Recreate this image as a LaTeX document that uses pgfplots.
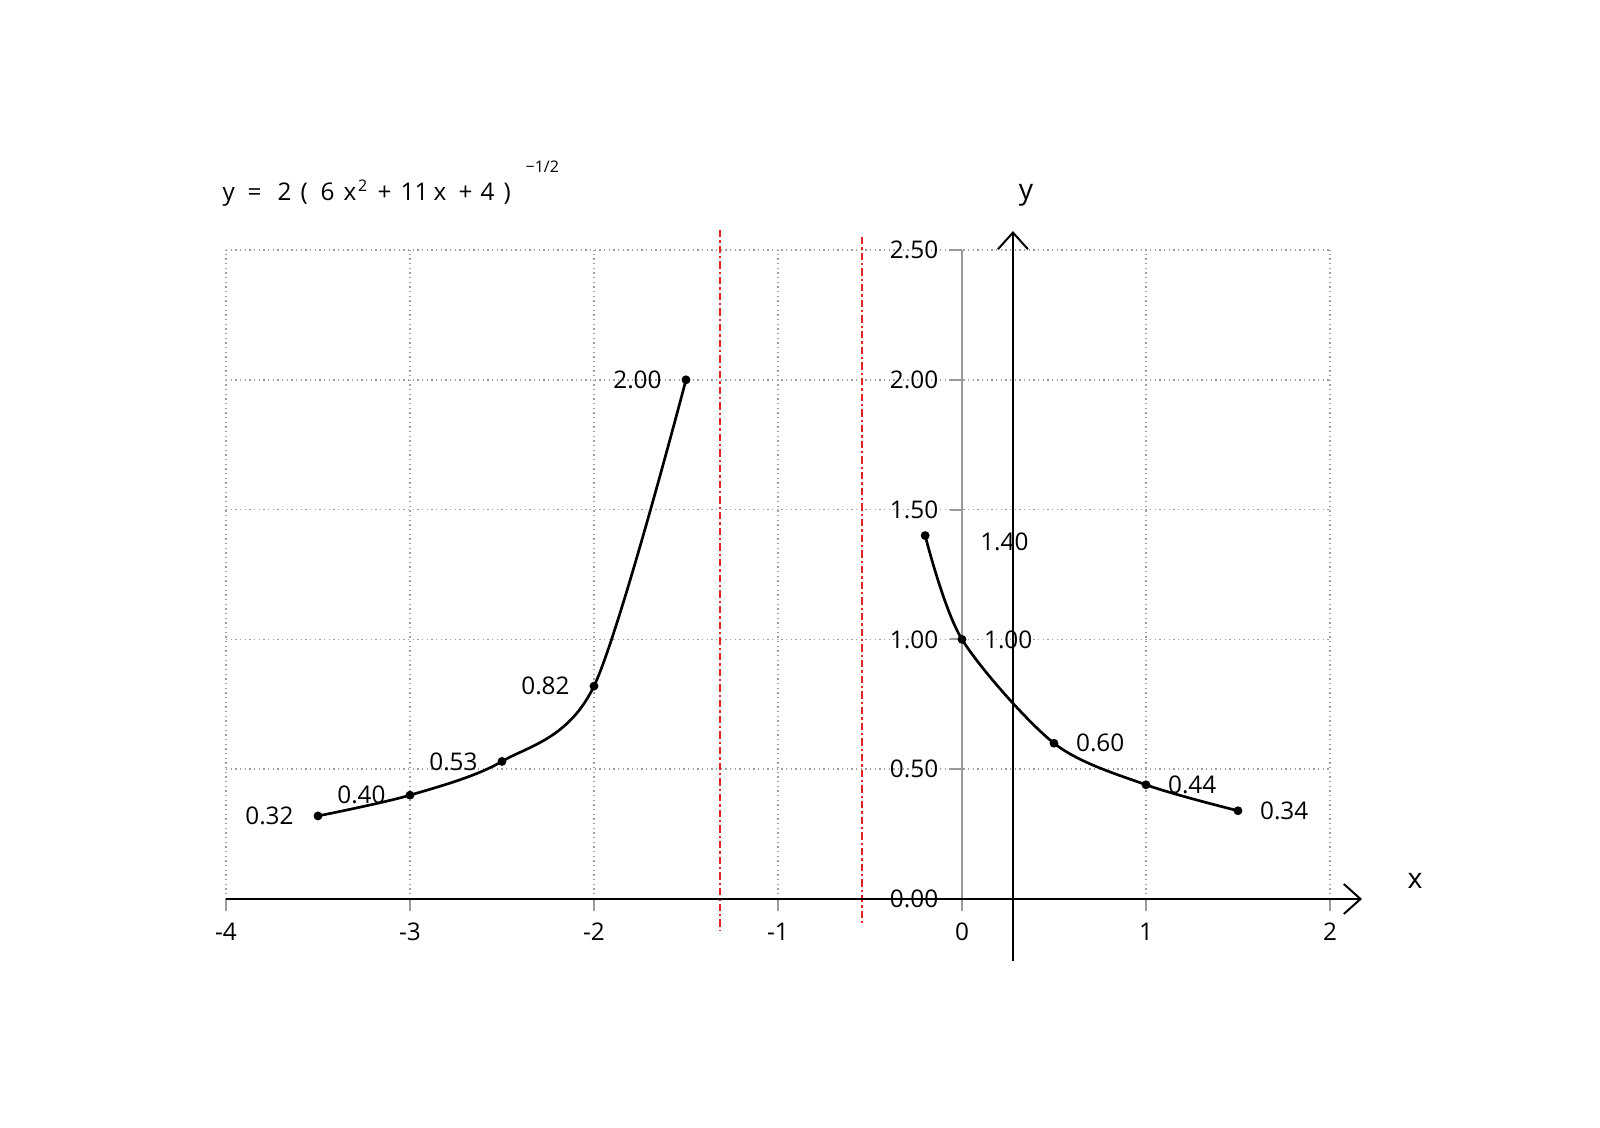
\documentclass[border=0pt]{standalone}
\usepackage{fontspec}
\setmainfont{Open Sans}
\usepackage{pgfplots}
\usepackage{pgfplotstable}
\pgfplotsset{compat=1.18}
\usetikzlibrary{arrows.meta}

% points marked on the two branches
\pgfplotstableread{
x    y    lab
-3.5 0.32 0.32
-3.0 0.40 0.40
-2.5 0.53 0.53
-2.0 0.82 0.82
-1.5 2.00 2.00
}\leftbranch

\pgfplotstableread{
x    y    lab  dx   dy
-0.2 1.40 1.40 12.8 -1.8
0.0  1.00 1.00 2.9  0
0.5  0.60 0.60 2.9  0
1.0  0.44 0.44 2.9  0
1.5  0.34 0.34 2.9  0
}\rightbranch

\tikzset{
  fml/.style={anchor=base west, inner sep=0pt, font=\fontsize{7.3}{8}\selectfont},
  asym/.style={color={rgb,255:red,225;green,35;blue,35}, line width=0.6pt,
               dash pattern=on 2.2pt off 0.9pt on 0.7pt off 0.9pt},
}

\begin{document}
\begin{tikzpicture}
\begin{axis}[
    at={(0,0)}, anchor=south west,
    scale only axis,
    width=331.2pt, height=194.7pt,
    xmin=-4, xmax=2, ymin=0, ymax=2.5,
    enlargelimits=false,
    axis lines=middle,
    axis line style={-, draw=gray!80, line width=0.6pt},
    xtick={-4,-3,-2,-1,0,1,2},
    xticklabels={-4,-3,-2,-1,0,1,2},
    ytick={0,0.5,1,1.5,2,2.5},
    yticklabels={0.00,0.50,1.00,1.50,2.00,2.50},
    hide obscured x ticks=false,
    hide obscured y ticks=false,
    tick align=outside,
    major tick length=3.6pt,
    tick style={gray!80, line width=0.6pt},
    grid=major,
    major grid style={densely dotted, gray!75, line width=0.5pt},
    tick label style={font=\fontsize{7.3}{8}\selectfont, black},
    clip=false,
]

% asymptotes
\draw[asym] (axis cs:-1.313,2.577) -- (axis cs:-1.313,-0.12);
\draw[asym] (axis cs:-0.546,2.55) -- (axis cs:-0.546,-0.10);

% hand drawn axes with arrows
\draw[black, line width=0.6pt, -{Straight Barb[length=5pt, width=9pt]}]
    (axis cs:-4,0) -- (axis cs:2.174,0);
\draw[black, line width=0.6pt, -{Straight Barb[length=5pt, width=9pt]}]
    (axis cs:0.277,-0.24) -- (axis cs:0.277,2.573);
\node[font=\fontsize{8.5}{9}\selectfont] at (axis cs:2.462,0.069) {x};
\node[font=\fontsize{8.5}{9}\selectfont] at (axis cs:0.348,2.712) {y};

% left branch
\addplot[black, line width=0.8pt, smooth, mark=*, mark size=0.9pt,
    nodes near coords, point meta=explicit symbolic,
    every node near coord/.append style={anchor=east, xshift=-3.6pt,
        font=\fontsize{7.3}{8}\selectfont}]
    table[x=x, y=y, meta=lab] {\leftbranch};

% right branch
\addplot[black, line width=0.8pt, smooth, mark=*, mark size=0.9pt,
    nodes near coords, point meta=explicit symbolic,
    visualization depends on={\thisrow{dx}\as\dx},
    visualization depends on={\thisrow{dy}\as\dy},
    every node near coord/.append style={anchor=west, xshift=\dx pt, yshift=\dy pt,
        font=\fontsize{7.3}{8}\selectfont}]
    table[x=x, y=y, meta=lab] {\rightbranch};

% formula
\node[fml] at (axis cs:-4.022,2.689) {y};
\node[fml] at (axis cs:-3.886,2.689) {=};
\node[fml] at (axis cs:-3.723,2.689) {2};
\node[fml] at (axis cs:-3.598,2.689) {(};
\node[fml] at (axis cs:-3.490,2.689) {6};
\node[fml] at (axis cs:-3.365,2.689) {x};
\node[fml] at (axis cs:-3.179,2.689) {+};
\node[fml] at (axis cs:-3.054,2.689) {11};
\node[fml] at (axis cs:-2.875,2.689) {x};
\node[fml] at (axis cs:-2.739,2.689) {+};
\node[fml] at (axis cs:-2.620,2.689) {4};
\node[fml] at (axis cs:-2.495,2.689) {)};
\node[fml, font=\fontsize{4.8}{5}\selectfont] at (axis cs:-3.285,2.725) {2};
\node[fml, font=\fontsize{4.8}{5}\selectfont] at (axis cs:-2.375,2.797) {−1/2};

\end{axis}
\pgfresetboundingbox
\path (-67.8pt,-68.4pt) rectangle (412.2pt,269.7pt);
\end{tikzpicture}
\end{document}
